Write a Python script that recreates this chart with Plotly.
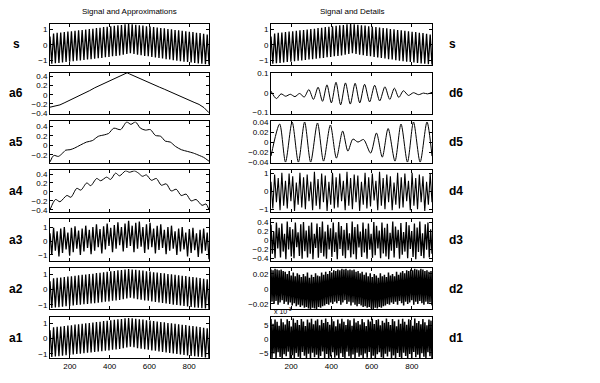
import numpy as np
import plotly.graph_objects as go

W, H = 600, 383
X_RANGE = [100, 900]
X_TICKS = [200, 400, 600, 800]

# ---------------- data ----------------
# signal s: alternating crest / trough values of the fast oscillation
s_top = [0.55, 0.74, 0.78, 0.80, 0.83, 0.86, 0.88, 0.92, 0.94, 0.97, 1.00, 1.03, 1.05, 1.09, 1.11,
         1.15, 1.17, 1.21, 1.23, 1.27, 1.29, 1.33, 1.36, 1.33, 1.31, 1.27, 1.25, 1.21, 1.19, 1.15,
         1.13, 1.09, 1.07, 1.03, 1.01, 0.97, 0.95, 0.91, 0.89, 0.85, 0.83, 0.79, 0.77, 0.72, 0.68]
s_bot = [-1.20, -1.17, -1.15, -1.12, -1.09, -1.07, -1.04, -1.01, -0.99, -0.96, -0.93, -0.91, -0.88, -0.85, -0.83,
         -0.79, -0.77, -0.73, -0.71, -0.67, -0.63, -0.58, -0.53, -0.57, -0.62, -0.66, -0.70, -0.73, -0.77, -0.80,
         -0.84, -0.87, -0.91, -0.94, -0.98, -1.01, -1.04, -1.07, -1.10, -1.13, -1.16, -1.19, -1.21, -1.24, -1.27]

a6_x = [100, 125, 150, 175, 200, 225, 250, 275, 300, 325, 350, 375, 400, 425, 450, 475, 488,
        500, 525, 550, 575, 600, 625, 650, 675, 700, 725, 750, 775, 800, 825, 850, 875, 900]
a6_y = [-0.27, -0.24, -0.22, -0.17, -0.12, -0.065, -0.01, 0.04, 0.09, 0.15, 0.20, 0.25, 0.30, 0.355, 0.41, 0.455, 0.475,
        0.45, 0.40, 0.355, 0.31, 0.26, 0.21, 0.165, 0.12, 0.07, 0.025, -0.02, -0.07, -0.12, -0.165, -0.21, -0.28, -0.39]

a5_x = [100, 119, 142, 164, 179, 201, 224, 254, 284, 313, 343, 373, 395, 421, 455, 486, 507, 530,
        555, 580, 605, 630, 657, 680, 705, 731, 761, 791, 821, 851, 873, 900]
a5_y = [-0.345, -0.21, -0.23, -0.16, -0.10, -0.09, -0.055, 0.01, 0.07, 0.10, 0.19, 0.22, 0.25, 0.36, 0.33, 0.49, 0.44, 0.49,
        0.36, 0.32, 0.33, 0.21, 0.19, 0.09, 0.07, -0.02, -0.09, -0.125, -0.16, -0.21, -0.25, -0.33]

a4_x = [100, 128, 150, 185, 205, 235, 255, 285, 305, 335, 355, 385, 405, 430, 450, 480, 500, 525,
        545, 565, 585, 610, 635, 660, 685, 710, 735, 760, 785, 810, 835, 865, 885, 900]
a4_y = [-0.40, -0.17, -0.22, -0.08, -0.12, 0.08, 0.04, 0.20, 0.14, 0.30, 0.25, 0.33, 0.28, 0.42, 0.36, 0.47, 0.44, 0.47,
        0.42, 0.35, 0.38, 0.26, 0.30, 0.15, 0.18, 0.02, 0.06, -0.08, -0.05, -0.20, -0.17, -0.30, -0.27, -0.40]

a3_top = [0.55, 0.95, 0.70, 0.90, 1.00, 0.60, 0.95, 1.05, 0.75, 0.90, 1.10, 0.80, 1.00, 1.20, 0.85,
          1.05, 1.25, 0.95, 1.15, 1.35, 1.00, 1.25, 1.45, 1.10, 1.30, 1.40, 1.00, 1.20, 1.30, 0.90,
          1.10, 1.20, 0.80, 1.00, 1.10, 0.70, 0.90, 1.00, 0.60, 0.85, 0.95, 0.55, 0.80, 0.90, 0.60]
a3_bot = [-1.00, -0.70, -1.10, -0.85, -0.60, -1.05, -0.80, -0.55, -1.00, -0.75, -0.50, -0.95, -0.70, -0.45, -0.90,
          -0.60, -0.35, -0.80, -0.55, -0.30, -0.75, -0.50, -0.35, -0.80, -0.55, -0.40, -0.85, -0.60, -0.45, -0.90,
          -0.65, -0.50, -0.95, -0.70, -0.55, -1.00, -0.75, -0.60, -1.10, -0.85, -0.65, -1.15, -0.90, -0.70, -1.30]

d6_x = [100, 127, 150, 173, 196, 219, 242, 265, 288, 311, 334, 356, 378, 400, 423, 446, 470, 494,
        518, 541, 565, 590, 615, 640, 666, 690, 713, 735, 758, 783, 808, 833, 858, 878, 900]
d6_y = [0.010, -0.028, -0.004, -0.016, -0.006, -0.018, -0.002, -0.020, 0.018, -0.032, 0.030, -0.042, 0.042, -0.050, 0.055,
        -0.060, 0.052, -0.056, 0.050, -0.050, 0.045, -0.045, 0.040, -0.040, 0.032, -0.032, 0.025, -0.022, 0.012, -0.012,
        0.002, -0.008, 0.000, -0.004, 0.004]

d5_x = [100, 143, 172, 205, 236, 267, 297, 331, 361, 395, 425, 456, 482, 507, 532, 560, 595, 624,
        653, 682, 716, 746, 778, 808, 841, 875, 900]
d5_y = [-0.028, 0.036, -0.040, 0.040, -0.040, 0.040, -0.040, 0.038, -0.038, 0.034, -0.032, 0.022, -0.018, 0.006,
        0.000, 0.005, -0.022, 0.018, -0.030, 0.027, -0.038, 0.036, -0.040, 0.040, -0.040, 0.040, -0.028]

d4_top = [0.55, 0.95, 0.75, 1.05, 0.60, 1.00, 0.85, 0.50, 1.05, 0.80, 0.95, 0.55, 1.10, 0.70, 1.00,
          0.90, 0.55, 1.05, 0.80, 1.00, 0.60, 1.10, 0.75, 0.95, 0.90, 0.55, 1.05, 0.80, 1.00, 0.60,
          1.10, 0.75, 0.95, 0.85, 0.50, 1.05, 0.80, 1.00, 0.60, 1.05, 0.75, 0.95, 0.85, 0.55, 1.00]
d4_bot = [-0.95, -0.60, -1.05, -0.80, -0.95, -0.55, -1.10, -0.75, -0.90, -1.00, -0.55, -1.05, -0.80, -1.00, -0.60,
          -1.10, -0.75, -0.95, -0.90, -0.55, -1.05, -0.80, -1.00, -0.60, -1.10, -0.75, -0.95, -0.85, -0.50, -1.05,
          -0.80, -1.00, -0.60, -1.05, -0.75, -0.95, -0.90, -0.55, -1.05, -0.80, -1.00, -0.60, -1.10, -0.75, -0.60]

d3_top = [0.35, 0.20, 0.40, 0.28, 0.38, 0.15, 0.42, 0.30, 0.25, 0.40, 0.18, 0.36, 0.41, 0.22, 0.33,
          0.40, 0.15, 0.38, 0.30, 0.42, 0.20, 0.35, 0.27, 0.40, 0.18, 0.41, 0.32, 0.24, 0.39, 0.16,
          0.42, 0.30, 0.36, 0.20, 0.40, 0.26, 0.38, 0.15, 0.41, 0.33, 0.22, 0.40, 0.28, 0.37, 0.17,
          0.42, 0.31, 0.24, 0.39, 0.19, 0.41, 0.34, 0.21, 0.38, 0.29, 0.42, 0.16, 0.36, 0.40, 0.25]
d3_bot = [-0.30, -0.40, -0.18, -0.38, -0.25, -0.42, -0.20, -0.36, -0.40, -0.15, -0.35, -0.41, -0.24, -0.38, -0.30,
          -0.42, -0.17, -0.39, -0.28, -0.36, -0.41, -0.20, -0.37, -0.26, -0.42, -0.19, -0.34, -0.40, -0.22, -0.38,
          -0.31, -0.42, -0.16, -0.37, -0.27, -0.41, -0.21, -0.39, -0.33, -0.18, -0.40, -0.29, -0.36, -0.42, -0.23,
          -0.38, -0.17, -0.41, -0.32, -0.25, -0.40, -0.19, -0.37, -0.42, -0.26, -0.35, -0.40, -0.21, -0.38, -0.30]

# d2 and d1 in units of 1e-3
d2_top = [26, 25, 27, 26, 25, 26, 24, 23, 20, 24, 18, 22, 17, 21, 19, 16, 20, 17, 22, 15, 19, 16, 21, 18,
          17, 22, 19, 23, 20, 24, 22, 25, 24, 26, 25, 27, 26, 27, 25, 26, 25, 26, 23, 24, 21, 23, 19, 22,
          17, 21, 16, 20, 18, 15, 21, 17, 19, 16, 22, 18, 20, 17, 23, 19, 22, 24, 21, 25, 24, 26, 25, 27,
          26, 25, 27, 26, 24, 25, 23, 24]
d2_bot = [-17, -20, -16, -21, -18, -15, -20, -17, -21, -18, -22, -19, -23, -21, -24, -22, -25, -24, -26, -27,
          -25, -26, -27, -24, -25, -23, -22, -20, -21, -18, -20, -17, -19, -16, -21, -18, -15, -20, -17, -22,
          -18, -21, -23, -20, -22, -24, -23, -25, -24, -26, -27, -25, -26, -24, -25, -23, -22, -20, -21, -18,
          -20, -17, -21, -16, -19, -22, -17, -20, -18, -15, -21, -17, -20, -16, -19, -21, -17, -20, -18, -22]
d1_top = [7.2, 5.5, 7.0, 6.2, 4.8, 7.3, 6.0, 5.2, 7.1, 6.5, 4.5, 7.4, 5.8, 6.8, 5.0, 7.2, 6.3, 4.7, 7.0, 5.9,
          7.3, 5.3, 6.6, 7.1, 4.9, 6.9, 5.7, 7.4, 6.1, 5.1, 7.2, 6.4, 4.6, 7.0, 5.6, 7.3, 6.2, 5.0, 7.1, 6.7,
          4.8, 7.4, 5.9, 6.5, 5.2, 7.2, 6.0, 4.7, 7.0, 6.3, 7.3, 5.4, 6.8, 7.1, 4.9, 6.6, 5.8, 7.4, 6.1, 5.0,
          7.2, 6.4, 4.6, 7.0, 5.5, 7.3, 6.2, 5.1, 7.1, 6.8, 4.8, 7.4, 5.7, 6.5, 5.3, 7.2, 6.0, 4.9, 7.0, 6.6]
d1_bot = [-6.8, -5.2, -7.0, -4.8, -6.5, -7.1, -5.5, -6.2, -4.6, -6.9, -5.8, -7.0, -5.0, -6.4, -7.1, -4.7, -6.0,
          -6.8, -5.3, -7.0, -4.9, -6.6, -5.7, -7.1, -6.1, -4.5, -6.9, -5.4, -7.0, -6.3, -4.8, -6.7, -5.9, -7.1,
          -5.1, -6.5, -7.0, -4.6, -6.2, -6.9, -5.6, -7.1, -4.9, -6.4, -5.8, -7.0, -5.2, -6.7, -4.7, -6.9, -6.0,
          -7.1, -5.5, -4.8, -6.6, -7.0, -5.3, -6.3, -4.6, -6.8, -5.9, -7.1, -5.0, -6.5, -7.0, -4.9, -6.1, -6.9,
          -5.4, -7.1, -4.7, -6.6, -5.7, -7.0, -5.1, -6.4, -6.9, -4.8, -6.2, -7.0]

left_labels = ["s", "a6", "a5", "a4", "a3", "a2", "a1"]
right_labels = ["s", "d6", "d5", "d4", "d3", "d2", "d1"]
titles = ["Signal and Approximations", "Signal and Details"]


def interleave(top, bot):
    n = min(len(top), len(bot))
    out = []
    for i in range(n):
        out += [top[i], bot[i]]
    return out


def samples(vals):
    return list(np.linspace(X_RANGE[0], X_RANGE[1], len(vals)))


s_vals = interleave(s_top, s_bot)
a3_vals = interleave(a3_top, a3_bot)
d4_vals = interleave(d4_top, d4_bot)
d3_vals = interleave(d3_top, d3_bot)
d2_vals = interleave(d2_top, d2_bot)
d1_vals = interleave(d1_top, d1_bot)

# (x, y, shape, y-range, tickvals, ticktext, line width)
panels_left = [
    (samples(s_vals), s_vals, "linear", [-1.27, 1.38], [-1, 0, 1], None, 1.3),
    (a6_x, a6_y, "linear", [-0.41, 0.48], [-0.4, -0.2, 0, 0.2, 0.4], None, 1),
    (a5_x, a5_y, "spline", [-0.36, 0.50], [-0.2, 0, 0.2, 0.4], None, 1),
    (a4_x, a4_y, "spline", [-0.44, 0.48], [-0.4, -0.2, 0, 0.2, 0.4], None, 1),
    (samples(a3_vals), a3_vals, "linear", [-1.40, 1.55], [-1, 0, 1], None, 1.3),
    (samples(s_vals), s_vals, "linear", [-1.30, 1.40], [-1, 0, 1], None, 1.3),
    (samples(s_vals), s_vals, "linear", [-1.30, 1.40], [-1, 0, 1], None, 1.3),
]
panels_right = [
    (samples(s_vals), s_vals, "linear", [-1.27, 1.38], [-1, 0, 1], None, 1.3),
    (d6_x, d6_y, "spline", [-0.105, 0.105], [-0.1, 0, 0.1], None, 1),
    (d5_x, d5_y, "spline", [-0.041, 0.041], [-0.04, -0.02, 0, 0.02, 0.04], None, 1),
    (samples(d4_vals), d4_vals, "linear", [-1.13, 1.18], [-1, 0, 1], None, 1.1),
    (samples(d3_vals), d3_vals, "linear", [-0.45, 0.47], [-0.4, -0.2, 0, 0.2, 0.4], None, 1.3),
    (samples(d2_vals), d2_vals, "linear", [-27.5, 27.5], [-20, 0, 20], ["\u22120.02", "0", "0.02"], 1.5),
    (samples(d1_vals), d1_vals, "linear", [-7.0, 7.8], [-5, 0, 5], None, 1.5),
]

# ---------------- layout geometry (pixels) ----------------
COL_X = [(50, 209), (271, 432)]
ROW_TOP0, ROW_PITCH, ROW_H = 20, 50, 42
FONT = "Liberation Sans, Arial, Helvetica, sans-serif"

fig = go.Figure()
layout = dict(width=W, height=H, margin=dict(l=0, r=0, t=0, b=0),
              paper_bgcolor="white", plot_bgcolor="white", showlegend=False,
              font=dict(family=FONT, size=8, color="black"))
annotations = []

idx = 0
for c, panels in enumerate([panels_left, panels_right]):
    x0, x1 = COL_X[c]
    for r, (xs, ys, shape, yr, tv, tt, lw) in enumerate(panels):
        idx += 1
        top = ROW_TOP0 + r * ROW_PITCH
        bot = top + ROW_H
        sfx = "" if idx == 1 else str(idx)
        fig.add_trace(go.Scatter(x=xs, y=ys, mode="lines",
                                 line=dict(color="black", width=lw, shape=shape, smoothing=0.8),
                                 xaxis="x" + sfx, yaxis="y" + sfx, hoverinfo="skip"))
        common = dict(showline=True, linecolor="black", linewidth=1, mirror="allticks",
                      ticks="inside", ticklen=3, tickwidth=1, tickcolor="black",
                      showgrid=False, zeroline=False, fixedrange=True,
                      tickfont=dict(family=FONT, size=8, color="black"))
        layout["xaxis" + sfx] = dict(common, domain=[x0 / W, x1 / W], range=X_RANGE,
                                     tickvals=X_TICKS, showticklabels=(r == 6),
                                     anchor="y" + sfx)
        ydict = dict(common, domain=[1 - bot / H, 1 - top / H], range=yr, tickvals=tv,
                     anchor="x" + sfx)
        if tt is not None:
            ydict["ticktext"] = tt
        layout["yaxis" + sfx] = ydict

        lab = (left_labels if c == 0 else right_labels)[r]
        yc = 1 - (top + ROW_H / 2) / H
        if c == 0:
            annotations.append(dict(text="<b>%s</b>" % lab, x=16 / W, y=yc, xref="paper", yref="paper",
                                    xanchor="center", yanchor="middle", showarrow=False,
                                    font=dict(family=FONT, size=12, color="black")))
        else:
            annotations.append(dict(text="<b>%s</b>" % lab, x=447 / W, y=yc, xref="paper", yref="paper",
                                    xanchor="left", yanchor="middle", showarrow=False,
                                    font=dict(family=FONT, size=12, color="black")))

for c, t in enumerate(titles):
    x0, x1 = COL_X[c]
    annotations.append(dict(text=t, x=(x0 + x1) / 2 / W, y=1 - 8 / H, xref="paper", yref="paper",
                            xanchor="center", yanchor="middle", showarrow=False,
                            font=dict(family=FONT, size=8, color="black")))

# exponent label of d1
annotations.append(dict(text="x 10<sup>-3</sup>", x=272 / W, y=1 - 320 / H, xref="paper", yref="paper",
                        xanchor="left", yanchor="bottom", showarrow=False,
                        font=dict(family=FONT, size=7, color="black")))

layout["annotations"] = annotations
fig.update_layout(**layout)
fig.write_html("out.html", config={"displayModeBar": False, "staticPlot": True},
               post_script="document.body.style.margin='0';document.body.style.overflow='hidden';")
